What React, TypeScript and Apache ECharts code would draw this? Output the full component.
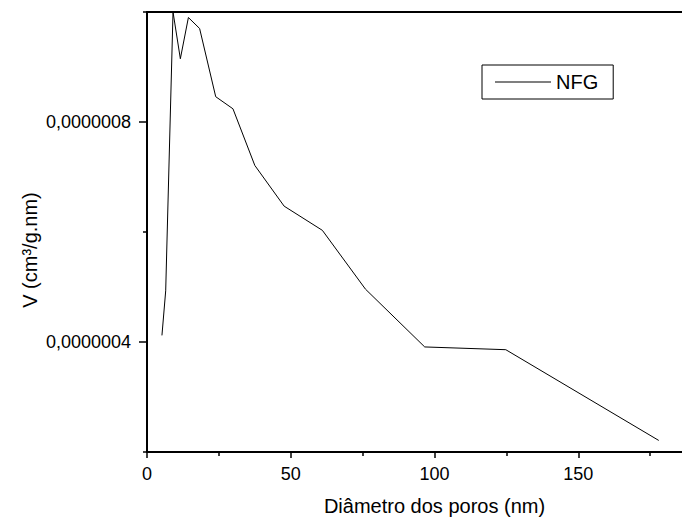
import React, { useEffect, useRef } from "react";
import * as echarts from "echarts";

const poreDiameters = [5.2, 6.5, 9.05, 11.6, 14.4, 18.3, 23.9, 29.9, 37.5, 47.7, 61.0, 76.0, 96.6, 124.8, 178.0];
const volumes = [4.12e-7, 4.93e-7, 1.0e-6, 9.15e-7, 9.9e-7, 9.7e-7, 8.46e-7, 8.24e-7, 7.21e-7, 6.47e-7, 6.03e-7, 4.96e-7, 3.91e-7, 3.86e-7, 2.21e-7];
const yLabelValues = [4e-7, 8e-7];
const yMinorTickValues = [2e-7, 6e-7, 1e-6];
const xLabelValues = [0, 50, 100, 150];
const seriesName = "NFG";
const xTitle = "Diâmetro dos poros (nm)";
const yTitle = "V (cm³/g.nm)";

const FONT = "'Liberation Sans', Arial, sans-serif";

export default function App() {
  const ref = useRef<HTMLDivElement>(null);
  useEffect(() => {
    if (!ref.current) return;
    const chart = echarts.init(ref.current, null, { renderer: "svg" });
    const data = poreDiameters.map((x, i) => [x, volumes[i]]);
    chart.setOption({
      animation: false,
      backgroundColor: "#ffffff",
      textStyle: { fontFamily: FONT, color: "#000" },
      grid: { left: 147, top: 12, width: 575, height: 441, show: false },
      legend: {
        show: true,
        left: 482,
        top: 65,
        orient: "horizontal",
        padding: [7, 15, 7, 13],
        borderColor: "#000",
        borderWidth: 1,
        itemWidth: 56,
        itemHeight: 1,
        itemGap: 6,
        textStyle: { fontFamily: FONT, fontSize: 20, color: "#000" },
        data: [{ name: seriesName, icon: "rect" }],
      },
      xAxis: [
        {
          type: "value",
          min: 0,
          max: 200,
          interval: 50,
          position: "bottom",
          name: xTitle,
          nameLocation: "middle",
          nameGap: 44,
          nameTextStyle: { fontFamily: FONT, fontSize: 20, color: "#000" },
          axisLine: { show: true, lineStyle: { color: "#000", width: 2 } },
          axisTick: { show: true, inside: false, length: 6, lineStyle: { color: "#000", width: 1.5 } },
          minorTick: { show: true, splitNumber: 2, length: 4, lineStyle: { color: "#000", width: 1.5 } },
          axisLabel: {
            show: true,
            margin: 13,
            customValues: xLabelValues,
            fontFamily: FONT,
            fontSize: 18,
            color: "#000",
          },
          splitLine: { show: false },
          minorSplitLine: { show: false },
        },
        {
          type: "value",
          min: 0,
          max: 200,
          position: "top",
          axisLine: { show: true, lineStyle: { color: "#000", width: 2 } },
          axisTick: { show: false },
          axisLabel: { show: false },
          splitLine: { show: false },
        },
      ],
      yAxis: [
        {
          type: "value",
          min: 2e-7,
          max: 1e-6,
          position: "left",
          axisLine: { show: true, lineStyle: { color: "#000", width: 2 } },
          axisTick: {
            show: true,
            length: 8,
            customValues: yLabelValues,
            lineStyle: { color: "#000", width: 1.5 },
          },
          axisLabel: {
            show: true,
            margin: 16,
            customValues: yLabelValues,
            fontFamily: FONT,
            fontSize: 18,
            color: "#000",
            formatter: (v: number) => v.toFixed(7).replace(".", ","),
          },
          splitLine: { show: false },
        },
        {
          type: "value",
          min: 2e-7,
          max: 1e-6,
          position: "left",
          axisLine: { show: false },
          axisTick: {
            show: true,
            length: 4,
            customValues: yMinorTickValues,
            lineStyle: { color: "#000", width: 1.5 },
          },
          axisLabel: { show: false },
          splitLine: { show: false },
        },
      ],
      graphic: [
        {
          type: "text",
          x: 30,
          y: 250,
          rotation: Math.PI / 2,
          style: {
            text: yTitle,
            fontFamily: FONT,
            fontSize: 20,
            fill: "#000",
            align: "center",
            verticalAlign: "middle",
          },
        },
      ],
      series: [
        {
          name: seriesName,
          type: "line",
          xAxisIndex: 0,
          yAxisIndex: 0,
          data,
          symbol: "none",
          showSymbol: false,
          lineStyle: { color: "#000", width: 1 },
          itemStyle: { color: "#000" },
          clip: true,
        },
      ],
    });
    return () => chart.dispose();
  }, []);
  return (
    <div style={{ position: "absolute", left: 0, top: 0, width: 682, height: 521, overflow: "hidden", background: "#fff" }}>
      <div ref={ref} style={{ width: 760, height: 521 }} />
    </div>
  );
}
